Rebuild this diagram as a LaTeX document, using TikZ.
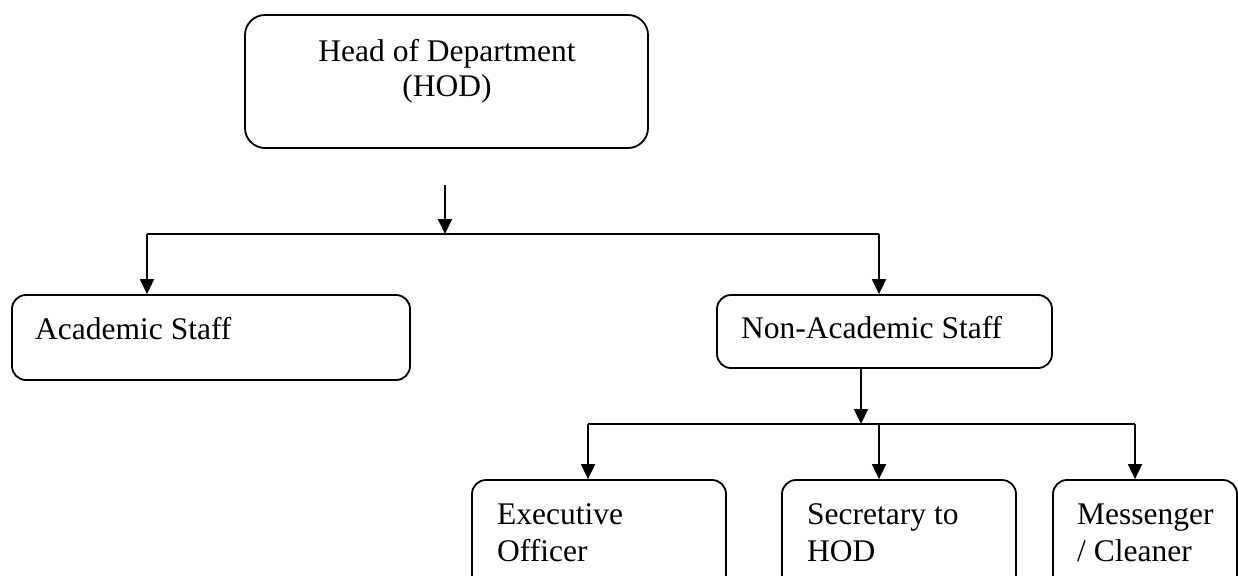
\documentclass[tikz,border=0pt]{standalone}
\usepackage{fontspec}
\setmainfont{Liberation Serif}
\usetikzlibrary{arrows.meta}
\begin{document}
\begin{tikzpicture}[x=1pt,y=-1pt,
  box/.style={draw, line width=1.8pt, inner sep=0pt, rounded corners=14pt},
  lbl/.style={inner sep=0pt, anchor=base west, font=\fontsize{31.5}{35}\selectfont},
  clbl/.style={inner sep=0pt, anchor=base, font=\fontsize{31.5}{35}\selectfont},
  line/.style={line width=1.8pt},
  arr/.style={line width=1.8pt, -{Triangle[length=15pt,width=14pt]}}]
\useasboundingbox (0,0) rectangle (1238,575);
\clip (0,0) rectangle (1238,575);
% boxes
\node[box, rounded corners=20pt, minimum width=403pt, minimum height=133pt] (hod) at (446.5,81.5) {};
\node[box, minimum width=398pt, minimum height=85pt] (acad) at (211,337.5) {};
\node[box, minimum width=335pt, minimum height=73pt] (nonacad) at (884.5,331.5) {};
\node[box, minimum width=254pt, minimum height=140pt] (exec) at (599,550) {};
\node[box, minimum width=234pt, minimum height=140pt] (sec) at (899,550) {};
\node[box, minimum width=184pt, minimum height=140pt] (mess) at (1145,550) {};
% texts
\node[clbl] (t1) at (447,62) {Head of Department};
\node[clbl] (t2) at (447,97) {(HOD)};
\node[lbl] (t3) at (35,339) {Academic Staff};
\node[lbl] (t4) at (741,338) {Non-Academic Staff};
\node[lbl] (t5) at (497,524) {Executive};
\node[lbl] (t6) at (497,561) {Officer};
\node[lbl] (t7) at (807,524) {Secretary to};
\node[lbl] (t8) at (807,561) {HOD};
\node[lbl] (t9) at (1077,524) {Messenger};
\node[lbl] (t10) at (1077,561) {/ Cleaner};
% connectors
\coordinate (s1) at (445,185);
\coordinate (j1) at (445,234);
\coordinate (jl) at (147,234);
\coordinate (jr) at (879,234);
\draw[arr] (s1) -- (j1);
\draw[line] (jl) -- (jr);
\draw[arr] (jl) -- (jl |- acad.north);
\draw[arr] (jr) -- (jr |- nonacad.north);
\coordinate (s2) at (861,368);
\coordinate (j2) at (861,424);
\coordinate (j2l) at (588,424);
\coordinate (j2m) at (879,424);
\coordinate (j2r) at (1135,424);
\draw[arr] (s2 |- nonacad.south) -- (j2);
\draw[line] (j2l) -- (j2r);
\draw[arr] (j2l) -- (j2l |- exec.north);
\draw[arr] (j2m) -- (j2m |- sec.north);
\draw[arr] (j2r) -- (j2r |- mess.north);
\end{tikzpicture}
\end{document}
